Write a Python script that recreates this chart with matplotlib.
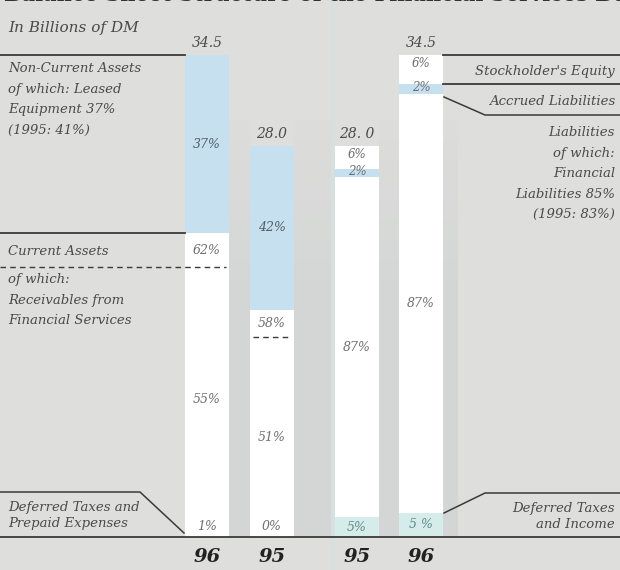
import numpy as np
import matplotlib
matplotlib.use('Agg')
import matplotlib.pyplot as plt

# data
years = ['96', '95', '95', '96']
totals = [34.5, 28.0, 28.0, 34.5]
total_labels = ['34.5', '28.0', '28. 0', '34.5']

# assets side (1996, 1995) in % of total
non_current = [37, 42]
current = [62, 58]
receivables = [55, 51]
deferred_prepaid = [1, 0]

# liabilities side (1995, 1996) in % of total
equity = [6, 6]
accrued = [2, 2]
liabilities = [87, 87]
deferred_income = [5, 5]

# layout (pixels)
W, H = 620, 570
base_px = 537
scale = 482 / 34.5
xpos = [207, 272, 357, 421]
bw = 44

bg = '#dededc'
strip = '#d3d6d5'
blue = '#c7e0ef'
teal = '#d6ecea'
txt = '#4a4a4a'
pct = '#6e6e6e'
line = '#3a3a3a'
font = 'DejaVu Serif'

fig = plt.figure(figsize=(W / 100, H / 100), dpi=100)
fig.patch.set_facecolor(bg)
ax = fig.add_axes([0, 0, 1, 1])
ax.set_facecolor(bg)
ax.set_xlim(0, W)
ax.set_ylim(-(H - base_px) / scale, base_px / scale)
ax.axis('off')


def py(p):
    # pixel row from top -> data units
    return (base_px - p) / scale


# slightly darker strips between the bars (scan shading), fading out upwards
gaps = [(xpos[0] + bw / 2, xpos[1] - bw / 2), (xpos[1] + bw / 2, 331),
        (xpos[2] + bw / 2, xpos[3] - bw / 2), (xpos[3] + bw / 2, 458)]
steps = np.linspace(120, 300, 10)
for x0, x1 in gaps:
    ax.fill_between([x0, x1], 0, py(300), color=strip, lw=0, zorder=0)
    for s0, s1, al in zip(steps[:-1], steps[1:], np.linspace(0.1, 0.9, 9)):
        ax.fill_between([x0, x1], py(s1), py(s0), color=strip, alpha=al, lw=0, zorder=0)
ax.axvline(333, color='#d0e3e3', lw=1.5, zorder=0.5)

# assets bars
for i, k in enumerate([0, 1]):
    t = totals[k]
    x = xpos[k]
    b = t * deferred_prepaid[i] / 100
    ax.bar(x, t * receivables[i] / 100 + b, bw, bottom=0, color='white', lw=0)
    h_cur = t * current[i] / 100
    ax.bar(x, h_cur - t * receivables[i] / 100, bw, bottom=b + t * receivables[i] / 100,
           color='white', lw=0)
    top_cur = b + h_cur
    ax.bar(x, t * non_current[i] / 100, bw, bottom=top_cur, color=blue, lw=0)
    ax.text(x, top_cur + t * non_current[i] / 200, f'{non_current[i]}%', ha='center', va='center',
            color='#4f5e6c', fontsize=9, style='italic', family=font)
    yr = b + t * receivables[i] / 100
    ax.text(x, (top_cur + yr) / 2, f'{current[i]}%', ha='center', va='center',
            color=pct, fontsize=9, style='italic', family=font)
    ax.text(x, (yr + b) / 2, f'{receivables[i]}%', ha='center', va='center',
            color=pct, fontsize=9, style='italic', family=font)
    ax.text(x, py(527), f'{deferred_prepaid[i]}%', ha='center', va='center',
            color=pct, fontsize=9, style='italic', family=font)
    ax.plot([x - bw / 2 + 3, x + bw / 2 - 3] if i else [0, x + bw / 2 - 3], [yr, yr],
            color=line, lw=1, ls=(0, (4, 3)))

# liabilities bars
for i, k in enumerate([2, 3]):
    t = totals[k]
    x = xpos[k]
    d = t * deferred_income[i] / 100
    ax.bar(x, d, bw, bottom=0, color=teal, lw=0)
    l = t * liabilities[i] / 100
    ax.bar(x, l, bw, bottom=d, color='white', lw=0)
    a = t * accrued[i] / 100
    ax.bar(x, a, bw, bottom=d + l, color=blue, lw=0)
    e = t * equity[i] / 100
    ax.bar(x, e, bw, bottom=d + l + a, color='white', lw=0)
    ax.text(x, d / 2, f'{deferred_income[i]}%' if i == 0 else f'{deferred_income[i]} %',
            ha='center', va='center', color='#5f8a86', fontsize=9, style='italic', family=font)
    ax.text(x, d + l / 2, f'{liabilities[i]}%', ha='center', va='center',
            color=pct, fontsize=9, style='italic', family=font)
    ax.text(x, d + l + a / 2 + 0.1, f'{accrued[i]}%', ha='center', va='center',
            color=pct, fontsize=8.5, style='italic', family=font)
    ax.text(x, t - 0.15, f'{equity[i]}%', ha='center', va='top',
            color=pct, fontsize=8.5, style='italic', family=font)

# totals and years
for x, t, s, y in zip(xpos, totals, total_labels, years):
    ax.text(x, t + 0.35, s, ha='center', va='bottom', color=txt, fontsize=10,
            style='italic', family=font)
    ax.text(x, py(557), y, ha='center', va='center', color='#222222', fontsize=14,
            style='italic', weight='bold', family=font)

# baseline
ax.plot([0, W], [0, 0], color=line, lw=1.3)

# left annotations
x_l = xpos[0] - bw / 2
ax.plot([0, x_l], [totals[0], totals[0]], color=line, lw=1.3)
yb = totals[0] * (100 - non_current[0]) / 100
ax.plot([0, x_l], [yb, yb], color=line, lw=1.3)
ax.plot([0, 140, x_l - 1], [py(492), py(492), py(533)], color=line, lw=1.1)

kw = dict(color=txt, fontsize=9.5, style='italic', family=font, linespacing=1.75)
kw2 = dict(color=txt, fontsize=9.5, style='italic', family=font, linespacing=1.35)
ax.text(8, py(28), 'In Billions of DM', ha='left', va='center', color=txt, fontsize=11,
        style='italic', family=font)
ax.text(8, py(62), 'Non-Current Assets\nof which: Leased\nEquipment 37%\n(1995: 41%)',
        ha='left', va='top', **kw)
ax.text(8, py(251), 'Current Assets', ha='left', va='center', **kw)
ax.text(8, py(273), 'of which:\nReceivables from\nFinancial Services', ha='left', va='top', **kw)
ax.text(8, py(501), 'Deferred Taxes and\nPrepaid Expenses', ha='left', va='top', **kw2)

# right annotations
x_r = xpos[3] + bw / 2
ax.plot([x_r, W], [totals[3], totals[3]], color=line, lw=1.3)
ye = totals[3] * (100 - equity[1]) / 100
ax.plot([x_r, W], [ye, ye], color=line, lw=1.3)
ax.plot([x_r + 1, 485, W], [py(97), py(115), py(115)], color=line, lw=1.1)
ax.plot([x_r + 1, 485, W], [py(513), py(493), py(493)], color=line, lw=1.1)

ax.text(615, py(71), "Stockholder's Equity", ha='right', va='center', **kw)
ax.text(615, py(101), 'Accrued Liabilities', ha='right', va='center', **kw)
ax.text(615, py(126), 'Liabilities\nof which:\nFinancial\nLiabilities 85%\n(1995: 83%)',
        ha='right', va='top', multialignment='right', **kw)
ax.text(615, py(502), 'Deferred Taxes\nand Income', ha='right', va='top',
        multialignment='right', **kw2)

# title, cut off by the top edge as in the scan
ax.text(4, py(1), 'Balance Sheet Structure of the Financial Services Business', ha='left',
        va='baseline', color='#333333', fontsize=15, weight='bold', family=font)

fig.savefig('out.png', dpi=100, facecolor=bg)
